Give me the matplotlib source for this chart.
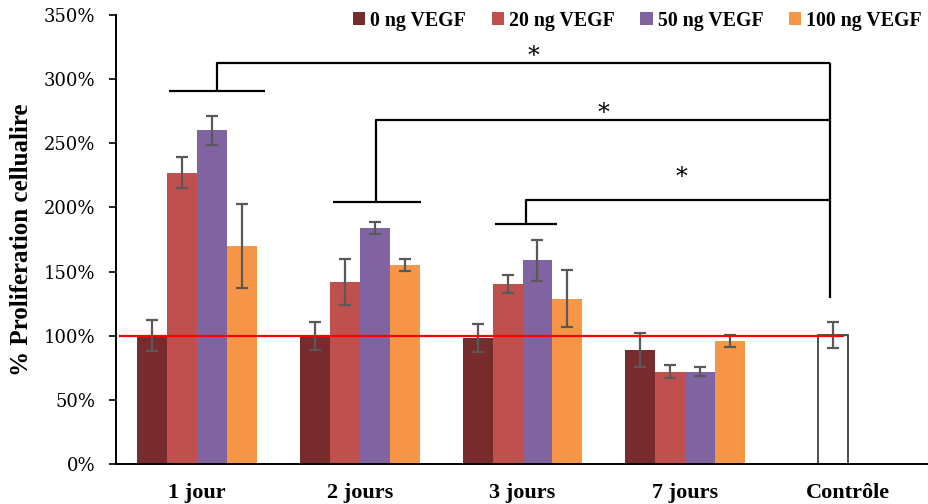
import matplotlib
matplotlib.use("Agg")
import matplotlib.pyplot as plt
import numpy as np
from matplotlib.ticker import FuncFormatter

categories = ["1 jour", "2 jours", "3 jours", "7 jours", "Contrôle"]
series_names = ["0 ng VEGF", "20 ng VEGF", "50 ng VEGF", "100 ng VEGF"]
vals_0 = [100, 100, 98, 89]
vals_20 = [227, 142, 140, 72]
vals_50 = [260, 184, 159, 72]
vals_100 = [170, 155, 129, 96]
err_0 = [12, 11, 11, 13]
err_20 = [12, 18, 7, 5]
err_50 = [11, 5, 16, 3.5]
err_100 = [33, 4.5, 22, 4.5]
control_val = 100.5
control_err = 10
stars = ["*", "*", "*"]

colors = ["#772B2D", "#C0504D", "#8064A2", "#F79646"]

W, H = 929, 504
fig = plt.figure(figsize=(W / 100, H / 100), dpi=100)
ax = fig.add_axes([116 / W, (H - 464) / H, (W - 116) / W, (464 - 15) / H])

x = np.arange(4)
bw = 0.184
all_vals = [vals_0, vals_20, vals_50, vals_100]
all_errs = [err_0, err_20, err_50, err_100]
handles = []
for i, (v, e) in enumerate(zip(all_vals, all_errs)):
    pos = x + (i - 1.5) * bw
    b = ax.bar(pos, v, width=bw, color=colors[i], label=series_names[i], zorder=2)
    ax.errorbar(pos, v, yerr=e, fmt="none", ecolor="#595959", elinewidth=1.6,
                capsize=4.5, capthick=1.6, zorder=3)
    handles.append(b)

# control bar
cx = 4 - 0.5 * bw
ax.bar([cx], [control_val], width=bw, facecolor="white", edgecolor="#404040",
       linewidth=1.3, zorder=2)
ax.errorbar([cx], [control_val], yerr=[control_err], fmt="none", ecolor="#595959",
            elinewidth=1.6, capsize=4.5, capthick=1.6, zorder=3)

# reference line at 100%
ax.plot([-0.475, 3.971], [100, 100], color="red", lw=1.6, zorder=4)

# significance brackets
lk = dict(color="black", lw=1.6, solid_capstyle="butt", zorder=4)
xr = 3.891
brackets = [(-0.172, 0.418, 0.123, 290.7, 312.3),
            (0.833, 1.378, 1.099, 204.0, 268.1),
            (1.831, 2.210, 2.022, 187.1, 205.8)]
for x0, x1, xm, yb, yt in brackets:
    ax.plot([x0, x1], [yb, yb], **lk)
    ax.plot([xm, xm, xr], [yb, yt, yt], **lk)
ax.plot([xr, xr], [312.3, 129.2], **lk)
star_pos = [(2.066, 318.0), (2.501, 273.0), (2.975, 223.5)]
for s, (sx, sy) in zip(stars, star_pos):
    ax.text(sx, sy, s, ha="center", va="center", fontsize=17,
            family="DejaVu Serif", zorder=5)

ax.set_xlim(-0.5, 4.5)
ax.set_ylim(0, 350)
ax.set_yticks(np.arange(0, 351, 50))
ax.yaxis.set_major_formatter(FuncFormatter(lambda v, p: f"{int(v)}%"))
ax.set_xticks(np.arange(5))
ax.set_xticklabels(categories, family="Liberation Serif", fontweight="bold",
                   fontsize=16)
for lab in ax.get_yticklabels():
    lab.set_family("DejaVu Serif")
    lab.set_fontsize(13)
ax.tick_params(axis="y", direction="out", length=5, width=1.2, pad=10,
               colors="black")
ax.tick_params(axis="x", length=0, pad=14)
for s in ["top", "right"]:
    ax.spines[s].set_visible(False)
ax.spines["left"].set_linewidth(1.4)
ax.spines["bottom"].set_linewidth(1.4)

fig.text(22 / W, 1 - 240 / H, "% Proliferation cellualire", rotation=90,
         ha="center", va="center", family="Liberation Serif",
         fontweight="bold", fontsize=18)

leg = ax.legend(handles=handles, ncol=4, loc="upper right",
                bbox_to_anchor=(933 / W, 1.0), bbox_transform=fig.transFigure,
                frameon=False, handlelength=0.62, handleheight=0.62,
                handletextpad=0.25, columnspacing=1.3, borderpad=0.05,
                prop=dict(family="Liberation Serif", weight="bold", size=14.3))

fig.savefig("out.png", dpi=100)
